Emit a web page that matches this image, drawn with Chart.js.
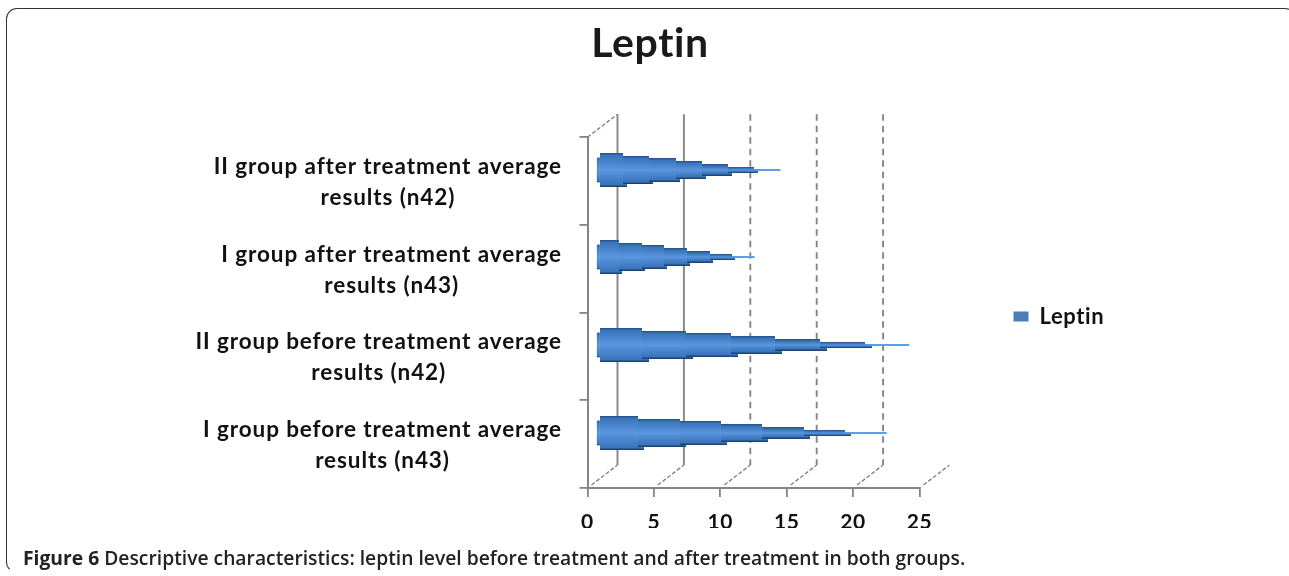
<!DOCTYPE html>
<html><head><meta charset="utf-8">
<style>
html,body{margin:0;padding:0;background:#fff;width:1289px;height:576px;overflow:hidden}
#frame{position:absolute;left:6px;top:8px;width:1290px;height:565px;border:1.5px solid #333;border-bottom-color:transparent;border-radius:11px;box-sizing:border-box}
#wrap{position:absolute;left:11px;top:0;width:1278px;height:576px;filter:blur(.55px)}
#caption{position:absolute;left:23px;top:544px;font:600 19.3px "Open Sans",sans-serif;color:#222;white-space:nowrap}
#caption b{font-weight:700}
</style>
<script src="https://cdn.jsdelivr.net/npm/chart.js@4"></script>
</head><body>
<div id="frame"></div>
<div id="wrap"><canvas id="c" width="1278" height="576"></canvas></div>
<div id="caption"><b>Figure 6</b> Descriptive characteristics: leptin level before treatment and after treatment in both groups.</div>
<script>
const titleText = "Leptin";
const seriesName = "Leptin";
const categories = [
  ["II group after treatment average", "results (n42)"],
  ["I group after treatment average", "results (n43)"],
  ["II group before treatment average", "results (n42)"],
  ["I group before treatment average", "results (n43)"]
];
const leptinValues = [13.4, 11.45, 23.1, 21.4];
const xTicks = [0, 5, 10, 15, 20, 25];

const DEPTH_X = 30, DEPTH_Y = -23, AXIS = "#858585";
const FONT = 'Lato, "Open Sans", sans-serif';

function segGradient(ctx, top, bottom) {
  const g = ctx.createLinearGradient(0, top, 0, bottom);
  const e = Math.min(.24, 2.5 / Math.max(bottom - top, 1));
  g.addColorStop(0, "#234f88");
  g.addColorStop(e, "#3a74bb");
  g.addColorStop(.5, "#5996de");
  g.addColorStop(1 - e, "#3a74bb");
  g.addColorStop(1, "#143660");
  return g;
}

const conePlugin = {
  id: "cone",
  afterLayout(chart) {
    chart.legend.top += 4;
    chart.legend.bottom += 4;
  },
  beforeDraw(chart) { chart.ctx.letterSpacing = "0.6px"; },
  beforeDatasetDraw(chart, args) {
    const ctx = chart.ctx;
    args.meta.data.forEach(bar => {
      const x0 = bar.base + 8.5, tip = bar.x + DEPTH_X / 2;
      const cy = Math.round(bar.y + DEPTH_Y / 2), hh = bar.height / 2, len = tip - x0;
      const N = 7;
      ctx.save();
      ctx.fillStyle = "#5a9fea";
      ctx.fillRect(x0 + len * .75, cy - 1, len * .25, 2);
      for (let i = 0; i < N - 1; i++) {
        const h = Math.round(hh * (1 - i / 6.2));
        const xa = Math.round(x0 + len * i / N) + (i === 0 ? 3 : 0);
        const xb = Math.round(x0 + len * (i + 1) / N);
        const xc = Math.round(xb + len * .022);
        ctx.fillStyle = segGradient(ctx, cy - h, cy + h);
        ctx.fillRect(xa, cy - h, xb - xa, 2 * h);
        ctx.fillRect(xb, cy, xc - xb, h);
      }
      ctx.fillStyle = segGradient(ctx, cy - hh * .75, cy + hh * .75);
      ctx.fillRect(x0, cy - hh * .72, 3, hh * 1.44);
      ctx.restore();
    });
    return false;
  },
  beforeDatasetsDraw(chart) {
    const ctx = chart.ctx, { x, y } = chart.scales;
    const top = y.top, bottom = y.bottom;
    ctx.save();
    ctx.strokeStyle = AXIS;
    ctx.lineWidth = 1.9;
    xTicks.slice(0, -1).forEach((v, i) => {
      const px = x.getPixelForValue(v) + DEPTH_X;
      ctx.setLineDash(i < 2 ? [] : [6.5, 5]);
      ctx.beginPath();
      ctx.moveTo(px, top + DEPTH_Y);
      ctx.lineTo(px, bottom + DEPTH_Y);
      ctx.stroke();
    });
    ctx.setLineDash([4, 2]);
    ctx.lineWidth = 1.4;
    xTicks.forEach(v => {
      const px = x.getPixelForValue(v);
      ctx.beginPath();
      ctx.moveTo(px + 4, bottom - 3);
      ctx.lineTo(px + DEPTH_X, bottom + DEPTH_Y);
      ctx.stroke();
    });
    ctx.beginPath();
    ctx.moveTo(x.left, top);
    ctx.lineTo(x.left + DEPTH_X, top + DEPTH_Y);
    ctx.stroke();
    ctx.restore();
  },
  afterDraw(chart) {
    const ctx = chart.ctx, y = chart.scales.y;
    ctx.save();
    ctx.font = "bold 22.5px " + FONT;
    ctx.letterSpacing = "0.9px";
    ctx.fillStyle = "#111";
    ctx.textAlign = "center";
    ctx.textBaseline = "middle";
    const rightEdge = y.right - 25.5;
    categories.forEach((lines, i) => {
      const cy = y.getPixelForValue(i) + 1;
      const w = Math.max(...lines.map(l => ctx.measureText(l).width));
      const cx = rightEdge - w / 2;
      lines.forEach((l, j) => ctx.fillText(l, cx, cy + (j - .5) * 31));
    });
    ctx.restore();
  }
};

new Chart(document.getElementById("c"), {
  type: "bar",
  plugins: [conePlugin],
  data: {
    labels: categories,
    datasets: [{
      label: seriesName,
      data: leptinValues,
      backgroundColor: "#4a7ebb",
      borderColor: "#4a7ebb",
      barPercentage: .39,
      categoryPercentage: 1
    }]
  },
  options: {
    indexAxis: "y",
    responsive: false,
    animation: false,
    layout: { padding: { left: 178, right: 178, top: 19, bottom: 48 } },
    plugins: {
      tooltip: { enabled: false },
      title: {
        display: true, text: titleText, color: "#1a1a1a",
        font: { family: FONT, size: 41, weight: "bold" },
        padding: { top: 0, bottom: 69 }
      },
      legend: {
        position: "right",
        fullSize: false,
        labels: {
          boxWidth: 15, boxHeight: 10, padding: 94, color: "#111",
          font: { family: FONT, size: 22, weight: "bold" }
        }
      }
    },
    scales: {
      x: {
        type: "linear", min: 0, max: 25,
        afterBuildTicks(s) { s.ticks = xTicks.map(v => ({ value: v })); },
        afterFit(s) { s.height = 40; },
        grid: { display: true, drawOnChartArea: false, color: AXIS, lineWidth: 1.8, tickLength: 9 },
        border: { color: AXIS, width: 2 },
        ticks: { color: "#111", padding: 13, font: { family: FONT, size: 21, weight: "bold" }, maxRotation: 0 }
      },
      y: {
        type: "category",
        afterFit(s) { s.width = 398.5; },
        grid: { display: true, drawOnChartArea: false, color: AXIS, lineWidth: 1.8, tickLength: 8, offset: true },
        border: { color: AXIS, width: 2 },
        ticks: { display: false }
      }
    }
  }
});
</script>
</body></html>
